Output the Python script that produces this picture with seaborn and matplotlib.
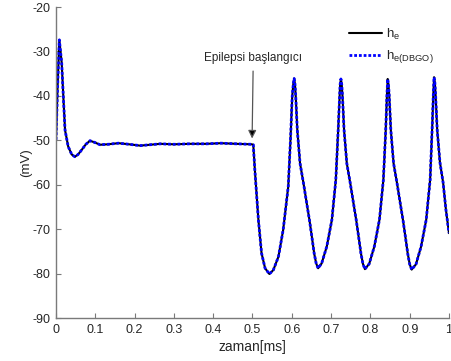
import matplotlib
matplotlib.use("Agg")
import matplotlib.pyplot as plt
import seaborn as sns
import pandas as pd

# Simulated membrane potential (mV) over time (ms)
zaman = [
    0.000, 0.004, 0.0085, 0.0145, 0.0186, 0.023, 0.031, 0.040, 0.048, 0.056,
    0.065, 0.076, 0.0865, 0.099, 0.112, 0.133, 0.159, 0.186, 0.214, 0.240,
    0.265, 0.300, 0.340, 0.383, 0.420, 0.460, 0.498, 0.502,
    0.506, 0.515, 0.523, 0.532, 0.543, 0.553, 0.566, 0.578, 0.591, 0.597,
    0.601, 0.604, 0.606, 0.608, 0.610, 0.614, 0.621, 0.630, 0.638, 0.645,
    0.651, 0.657, 0.662, 0.667, 0.676,
    0.689, 0.702, 0.712, 0.718, 0.721, 0.723, 0.725, 0.727,
    0.729, 0.733, 0.740, 0.749, 0.757, 0.764, 0.770, 0.776, 0.781, 0.786,
    0.797, 0.810, 0.823, 0.833, 0.839, 0.842, 0.844, 0.846,
    0.848, 0.852, 0.859, 0.868, 0.876, 0.883, 0.889, 0.895, 0.900, 0.905,
    0.916, 0.929, 0.942, 0.952, 0.957, 0.960, 0.962, 0.964,
    0.966, 0.970, 0.977, 0.985, 0.992, 1.000,
]
he = [
    -49.9, -38.0, -27.4, -32.6, -40.1, -47.7, -51.4, -53.2, -53.7, -53.2,
    -52.2, -50.9, -50.1, -50.5, -51.0, -50.9, -50.65, -50.9, -51.2, -51.0,
    -50.8, -50.9, -50.8, -50.8, -50.65, -50.8, -50.9, -51.0,
    -56.7, -67.9, -75.4, -78.8, -80.1, -79.2, -76.2, -70.2, -60.4, -49.2,
    -40.2, -37.2, -36.1, -37.3, -40.1, -47.7, -55.2, -59.8, -64.2, -68.0,
    -71.7, -75.5, -77.7, -78.8, -77.7,
    -73.9, -67.9, -58.9, -47.7, -41.5, -37.4, -36.2, -37.4,
    -40.1, -47.7, -55.2, -59.8, -64.2, -68.0, -71.7, -75.5, -77.8, -79.0,
    -77.8, -73.9, -67.9, -58.9, -47.7, -40.0, -36.2, -37.4,
    -40.1, -47.7, -55.2, -59.8, -64.2, -68.0, -71.7, -75.5, -77.9, -79.1,
    -77.9, -73.9, -67.9, -58.9, -47.7, -40.0, -35.8, -37.0,
    -40.0, -47.7, -55.0, -59.5, -65.5, -70.9,
]
he_dbgo = list(he)

x_ticks = [0, 0.1, 0.2, 0.3, 0.4, 0.5, 0.6, 0.7, 0.8, 0.9, 1]
x_tick_labels = ["0", "0.1", "0.2", "0.3", "0.4", "0.5", "0.6", "0.7", "0.8", "0.9", "1"]
y_ticks = [-90, -80, -70, -60, -50, -40, -30, -20]

df = pd.DataFrame({"zaman": zaman, "he": he, "he_dbgo": he_dbgo})

sns.set_style("ticks")
plt.rcParams["font.family"] = ["Liberation Sans", "DejaVu Sans"]
plt.rcParams["mathtext.fontset"] = "custom"
plt.rcParams["mathtext.rm"] = "Liberation Sans"
plt.rcParams["axes.unicode_minus"] = False

text_col = "#262626"
spine_col = "#7a7a7a"

fig = plt.figure(figsize=(4.52, 3.61), dpi=100)
ax = fig.add_axes([56 / 452, 1 - 318 / 361, 393 / 452, 311 / 361])

sns.lineplot(data=df, x="zaman", y="he", ax=ax, color="black", lw=1.5,
             estimator=None, sort=False, label=r"h$_{\mathrm{e}}$")
sns.lineplot(data=df, x="zaman", y="he_dbgo", ax=ax, color="#0000ff", lw=2.0,
             linestyle=(0, (1, 0.7)), estimator=None, sort=False,
             label=r"h$_{\mathrm{e(DBGO)}}$")

ax.set_xlim(0, 1)
ax.set_ylim(-90, -20)
ax.set_xticks(x_ticks)
ax.set_xticklabels(x_tick_labels)
ax.set_yticks(y_ticks)

for side in ["top", "right"]:
    ax.spines[side].set_visible(False)
for side in ["left", "bottom"]:
    ax.spines[side].set_color(spine_col)
    ax.spines[side].set_linewidth(1.0)

ax.tick_params(axis="both", direction="in", length=3.5, width=0.8,
               color=spine_col, labelsize=9, labelcolor=text_col, pad=4,
               bottom=True, left=True)

ax.set_xlabel("zaman[ms]", fontsize=10, color=text_col, labelpad=3)
ax.set_ylabel("(mV)", fontsize=9.5, color=text_col, labelpad=0)

ax.annotate("Epilepsi başlangıcı", xy=(0.499, -49.6), xytext=(0.502, -31.4),
            ha="center", va="center", fontsize=8.5, color=text_col,
            arrowprops=dict(arrowstyle="-|>", color="#555555", lw=0.9,
                            mutation_scale=12, shrinkA=3, shrinkB=0,
                            fc="black", ec="#555555"))

leg = ax.legend(loc="upper right", bbox_to_anchor=(0.982, 0.962), frameon=False,
                fontsize=9.5, handlelength=2.5, handletextpad=0.3,
                labelspacing=0.5, borderaxespad=0.2)
for txt in leg.get_texts():
    txt.set_color(text_col)

fig.savefig("out.png", dpi=100)
